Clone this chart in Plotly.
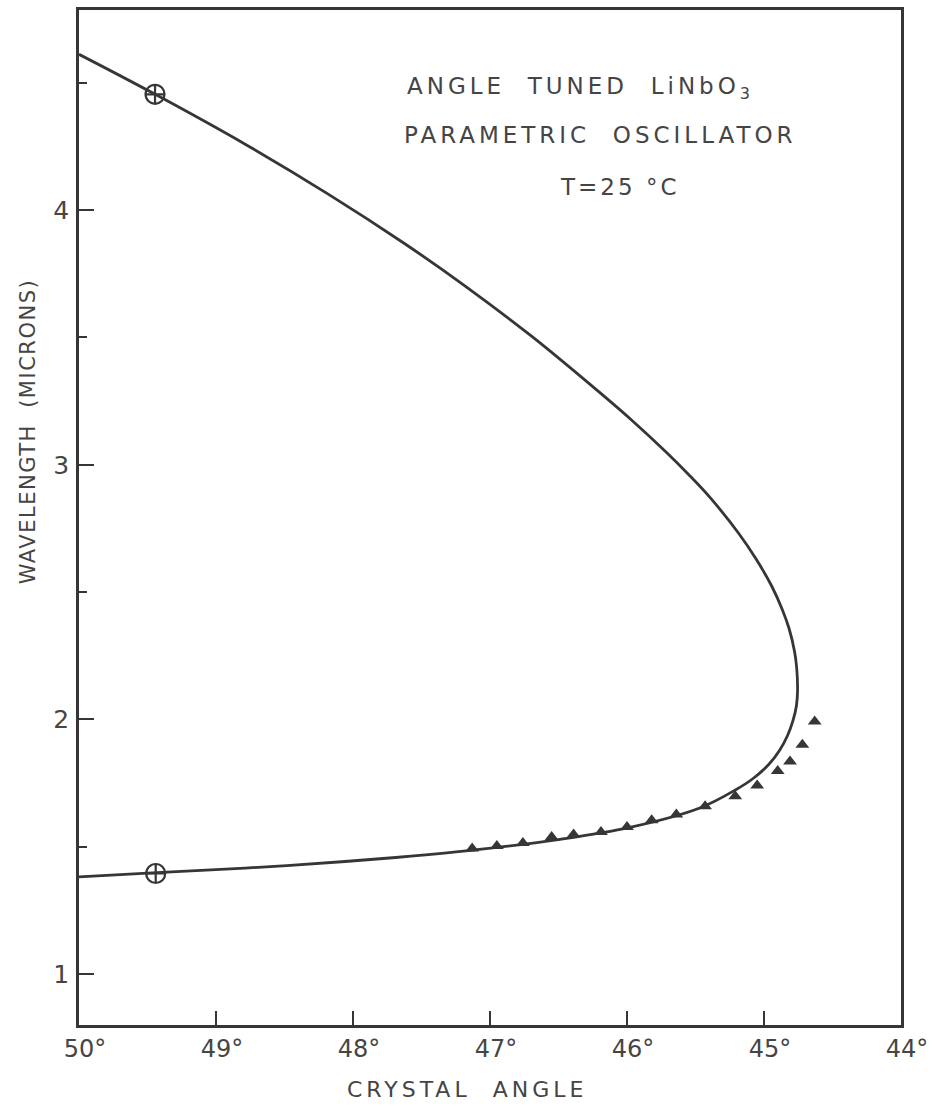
import plotly.graph_objects as go

# Tuning curve, upper (idler) branch: crystal angle (deg) -> wavelength (microns)
upper_angle = [50.0, 49.444, 48.787, 48.181, 47.630, 47.181, 46.699, 46.213,
               45.961, 45.717, 45.549, 45.393, 45.188, 45.059, 44.945, 44.866,
               44.817, 44.777, 44.761, 44.755]
upper_wl = [4.612, 4.455, 4.259, 4.063, 3.871, 3.702, 3.506, 3.290,
            3.173, 3.051, 2.961, 2.871, 2.733, 2.631, 2.525, 2.431,
            2.357, 2.267, 2.200, 2.114]

# Lower (signal) branch, from the turning point back to 50 deg
lower_angle = [44.763, 44.788, 44.828, 44.887, 44.964, 45.077, 45.212, 45.474,
               45.978, 46.489, 47.139, 47.577, 48.058, 48.788, 49.431, 50.0]
lower_wl = [2.055, 1.996, 1.937, 1.878, 1.824, 1.769, 1.722, 1.651,
            1.576, 1.529, 1.486, 1.463, 1.442, 1.416, 1.398, 1.382]

# Measured tuning points
meas_angle = [47.13, 46.95, 46.76, 46.55, 46.39, 46.19, 46.00, 45.82,
              45.64, 45.43, 45.21, 45.05, 44.90, 44.81, 44.72, 44.63]
meas_wl = [1.493, 1.503, 1.515, 1.538, 1.548, 1.558, 1.578, 1.604,
           1.627, 1.659, 1.698, 1.741, 1.797, 1.835, 1.901, 1.992]

# Degenerate reference points
ref_angle = [49.445, 49.44]
ref_wl = [4.455, 1.395]

x_ticks = [50, 49, 48, 47, 46, 45, 44]
x_ticktext = [f"{t}°" for t in x_ticks]
y_ticks = [1, 2, 3, 4]
y_ticktext = ["1", "2", "3", "4"]
y_minor = [1.5, 2.5, 3.5, 4.5]

INK = "#363636"
TEXT = "#454545"
FONT = "DejaVu Sans"
NB = "\u00a0"


def spaced(s, px):
    return f'<span style="letter-spacing:{px}px">{s}</span>'


fig = go.Figure()

fig.add_trace(go.Scatter(
    x=upper_angle + lower_angle, y=upper_wl + lower_wl,
    mode="lines", line=dict(color=INK, width=2.8, shape="spline", smoothing=1.0),
    hoverinfo="skip", showlegend=False,
))
fig.add_trace(go.Scatter(
    x=meas_angle, y=meas_wl, mode="markers",
    marker=dict(symbol="triangle-up", size=12, color=INK),
    showlegend=False,
))
fig.add_trace(go.Scatter(
    x=ref_angle, y=ref_wl, mode="markers",
    marker=dict(symbol="circle-cross-open", size=19,
                color=INK, line=dict(color=INK, width=2.2)),
    showlegend=False,
))

fig.update_xaxes(
    range=[50, 44], tickvals=x_ticks, ticktext=x_ticktext,
    ticks="inside", ticklen=14, tickwidth=2, tickcolor=INK,
    showline=True, linewidth=2.5, linecolor=INK, mirror=True,
    showgrid=False, zeroline=False, automargin=False,
    tickfont=dict(family=FONT, size=24, color=TEXT),
    ticklabelshift=-6,
)
fig.update_yaxes(
    range=[0.8, 4.786], tickvals=y_ticks, ticktext=y_ticktext,
    ticks="inside", ticklen=15, tickwidth=2, tickcolor=INK,
    minor=dict(tickvals=y_minor, ticks="inside", ticklen=8,
               tickwidth=2, tickcolor=INK),
    showline=True, linewidth=2.5, linecolor=INK, mirror=True,
    showgrid=False, zeroline=False, automargin=False,
    tickfont=dict(family=FONT, size=25, color=TEXT),
    ticklabelstandoff=2,
)

note_font = dict(family=FONT, size=23, color=TEXT)
notes = [
    (spaced(f"ANGLE{NB} TUNED{NB} LiNbO<sub>3</sub>", 4), 0.6095, 0.923),
    (spaced(f"PARAMETRIC{NB} OSCILLATOR", 4), 0.635, 0.877),
    (spaced("T=25 °C", 3), 0.658, 0.8256),
]
for text, px, py in notes:
    fig.add_annotation(text=text, xref="paper", yref="paper", x=px, y=py,
                       xanchor="center", yanchor="middle",
                       showarrow=False, font=note_font)

fig.add_annotation(text=spaced(f"CRYSTAL{NB} ANGLE", 4),
                   xref="paper", yref="paper", x=0.472, y=-0.064,
                   xanchor="center", yanchor="middle",
                   showarrow=False, font=dict(family=FONT, size=22, color=TEXT))
fig.add_annotation(text=spaced(f"WAVELENGTH{NB} (MICRONS)", 1.5),
                   xref="paper", yref="paper", x=-0.062, y=0.584,
                   xanchor="center", yanchor="middle", textangle=-90,
                   showarrow=False, font=dict(family=FONT, size=21, color=TEXT))

fig.update_layout(
    width=932, height=1111,
    margin=dict(l=79, r=31, t=10, b=86),
    paper_bgcolor="white", plot_bgcolor="white",
    showlegend=False,
)

fig.write_html("out.html")
